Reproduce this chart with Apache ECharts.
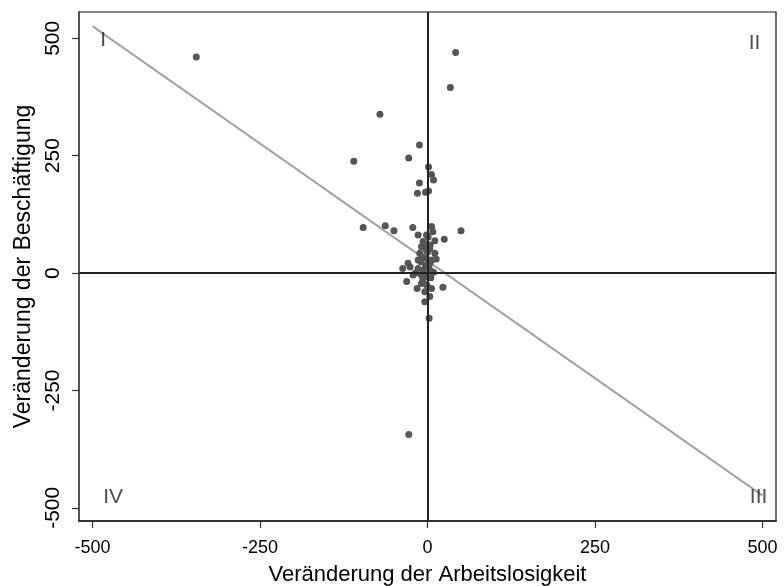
<!DOCTYPE html>
<html>
<head>
<meta charset="utf-8">
<script src="https://cdn.jsdelivr.net/npm/echarts@6/dist/echarts.min.js"></script>
<style>html,body{margin:0;padding:0;background:#fff}#c{width:784px;height:586px}</style>
</head>
<body>
<div id="c"></div>
<script>
const xTicks = [-500, -250, 0, 250, 500];
const yTicks = [-500, -250, 0, 250, 500];
const pointsX = [-345, 42, 34, -71, -28, -110, -12, -28, 1.5, 6, 9, -12, 1.5, -3, -15,
  -96, -63, -50, -22, 50, 6, 8, -14, -1.5, 25, 11, 1, -6.5, -9, 3.4, 11, -11.5, -14, -1.5,
  3.4, -29, -37, -26, -14, -6.5, 3.4, -21.5, -9, -1.5, -31, -9, -1.5, -15.5, 6, 23, -4, 3.4,
  -4, 2.4, -5, 4, -8, 0, 7, -3, 2, -18, 5, -10, 0, 9, -7, 1, 13, -2];
const pointsY = [460, 470, 395, 338, -344, 238, 273, 245, 226, 210, 198, 192, 175, 172, 170,
  97, 101, 90, 97, 90, 99, 88, 81, 81, 72, 69, 77, 67, 56, 52, 42, 42, 28, 31,
  21, 21, 10, 13, 10, 6, 6, -4, -4, -8, -18, -22, -25, -33, -33, -30, -40, -50,
  -61, -96, 62, 60, 35, 45, 28, 15, 12, 0, -10, 24, 18, 2, -14, -30, 30, 50];
const fitX = [-500, 500];
const fitY = [526, -474];
const quadNames = ['I', 'II', 'III', 'IV'];
const quadX = [-484, 488, 494, -469];
const quadY = [496, 490, -477, -477];

const scatterData = pointsX.map((x, i) => [x, pointsY[i]]);
const fitData = fitX.map((x, i) => [x, fitY[i]]);
const quadData = quadNames.map((n, i) => ({name: n, value: [quadX[i], quadY[i]]}));

const font = 'Liberation Sans, Arial, sans-serif';
const chart = echarts.init(document.getElementById('c'), null, {renderer: 'canvas'});
chart.setOption({
  animation: false,
  grid: {left: 79, right: 8, top: 12, bottom: 65, show: true, borderColor: '#111', borderWidth: 1.2,
    containLabel: false, outerBoundsMode: 'none'},
  xAxis: {
    type: 'value', min: -520, max: 520,
    name: 'Veränderung der Arbeitslosigkeit', nameLocation: 'middle', nameGap: 43,
    nameTextStyle: {fontFamily: font, fontSize: 22, color: '#000'},
    axisLine: {show: true, onZero: false, lineStyle: {color: '#333', width: 2}},
    axisTick: {show: true, length: 7, lineStyle: {color: '#333', width: 1.2}, customValues: xTicks},
    axisLabel: {fontFamily: font, fontSize: 18, color: '#000', margin: 18, customValues: xTicks},
    splitLine: {show: false}
  },
  yAxis: {
    type: 'value', min: -528, max: 556,
    name: 'Veränderung der Beschäftigung', nameLocation: 'middle', nameGap: 42,
    nameTextStyle: {fontFamily: font, fontSize: 23, color: '#000'},
    axisLine: {show: true, onZero: false, lineStyle: {color: '#555', width: 2}},
    axisTick: {show: true, length: 7, lineStyle: {color: '#333', width: 1.2}, customValues: yTicks},
    axisLabel: {fontFamily: font, fontSize: 21, color: '#000', margin: 15, rotate: 90, customValues: yTicks},
    splitLine: {show: false}
  },
  series: [
    {
      type: 'line', data: fitData, symbol: 'none', silent: true, z: 3,
      lineStyle: {color: '#a3a3a3', width: 2}
    },
    {
      type: 'scatter', data: scatterData, symbol: 'circle', symbolSize: 7, z: 4,
      itemStyle: {color: '#555', opacity: 1},
      markLine: {
        silent: true, symbol: 'none', animation: false,
        label: {show: false},
        lineStyle: {color: '#222', width: 2, type: 'solid'},
        data: [{xAxis: 0}, {yAxis: 0}]
      }
    },
    {
      type: 'scatter', data: quadData, symbolSize: 0, silent: true, z: 5,
      label: {show: true, position: 'inside', formatter: '{b}', fontFamily: font, fontSize: 21, color: '#222'}
    }
  ]
});
</script>
</body>
</html>
